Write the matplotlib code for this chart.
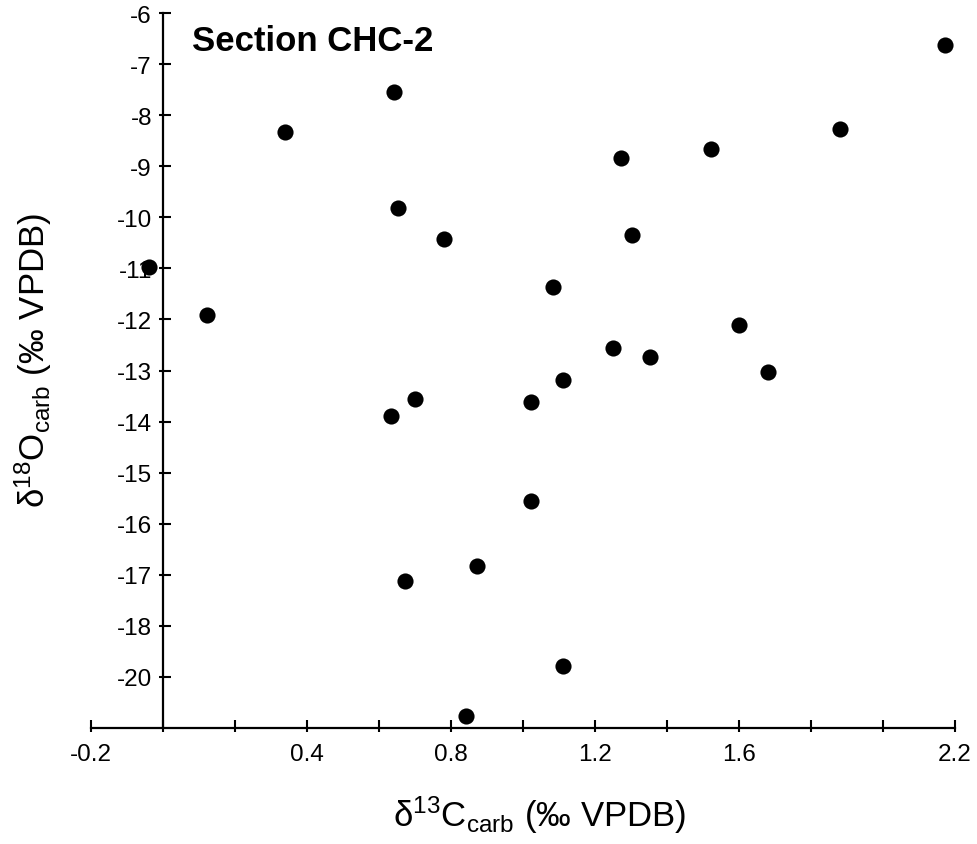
import matplotlib
matplotlib.use("Agg")
import matplotlib.pyplot as plt
import numpy as np

# ---- data ----
d13C = [2.171, 0.642, 0.340, 1.881, 1.521, 1.271, 0.652, 1.302, 0.781, -0.040,
        1.082, 0.122, 1.601, 1.251, 1.352, 1.681, 1.111, 0.701, 1.022, 0.632,
        1.022, 0.871, 0.671, 1.111, 0.841]
d18O = [-6.62, -7.55, -8.33, -8.27, -8.67, -8.83, -9.81, -10.35, -10.43, -10.97,
        -11.37, -11.92, -12.10, -12.56, -12.74, -13.02, -13.19, -13.56, -13.62, -13.90,
        -15.56, -16.82, -17.12, -18.78, -19.76]

x_ticks = [-0.2, 0.0, 0.2, 0.4, 0.6, 0.8, 1.0, 1.2, 1.4, 1.6, 1.8, 2.0, 2.2]
x_tick_labels = ["-0.2", "", "", "0.4", "", "0.8", "", "1.2", "", "1.6", "", "", "2.2"]
y_ticks = [-6, -7, -8, -9, -10, -11, -12, -13, -14, -15, -16, -17, -18, -19]
y_tick_labels = ["-6", "-7", "-8", "-9", "-10", "-11", "-12", "-13", "-14", "-15",
                 "-16", "-17", "-18", "-20"]

title_text = "Section CHC-2"

plt.rcParams["font.family"] = ["Liberation Sans", "DejaVu Sans"]
plt.rcParams["mathtext.fontset"] = "custom"
plt.rcParams["mathtext.rm"] = "Liberation Sans"
plt.rcParams["mathtext.it"] = "Liberation Sans:italic"
plt.rcParams["mathtext.bf"] = "Liberation Sans:bold"

W, H = 978, 845
fig = plt.figure(figsize=(W / 100, H / 100), dpi=100)
ax = fig.add_axes([91 / W, 1 - 729 / H, (955 - 91) / W, (729 - 14) / H])

ax.scatter(d13C, d18O, s=135, color="black", zorder=3, clip_on=False, linewidths=0)

ax.set_xlim(-0.2, 2.2)
ax.set_ylim(-20, -6)

for s in ["top", "right"]:
    ax.spines[s].set_visible(False)
ax.spines["left"].set_position(("data", 0))
ax.spines["left"].set_linewidth(1.6)
ax.spines["bottom"].set_linewidth(1.6)

ax.set_xticks(x_ticks)
ax.set_xticklabels(x_tick_labels)
ax.set_yticks(y_ticks)
ax.set_yticklabels(y_tick_labels)

# inner ticks (major) + short outer ticks (minor at same positions)
ax.xaxis.remove_overlapping_locs = False
ax.yaxis.remove_overlapping_locs = False
ax.set_xticks(x_ticks, minor=True)
ax.set_yticks(y_ticks, minor=True)
ax.tick_params(which="major", direction="in", length=5.8, width=1.5,
               labelsize=17.5, pad=11)
ax.tick_params(which="minor", direction="out", length=2.7, width=1.5)
ax.tick_params(axis="y", which="major", pad=8)

ax.text(0.1166, 0.9486, title_text, transform=ax.transAxes, fontsize=25,
        fontweight="bold", ha="left", va="baseline")

fig.text(540 / W, 1 - 827 / H,
         r"δ$^{\mathrm{13}}$C$_{\mathrm{carb}}$ (‰ VPDB)",
         fontsize=25, ha="center", va="baseline")
fig.text(33 / W, 1 - 360 / H,
         r"δ$^{\mathrm{18}}$O$_{\mathrm{carb}}$ (‰ VPDB)",
         fontsize=25, ha="center", va="center", rotation=90)

fig.savefig("out.png", dpi=100)
